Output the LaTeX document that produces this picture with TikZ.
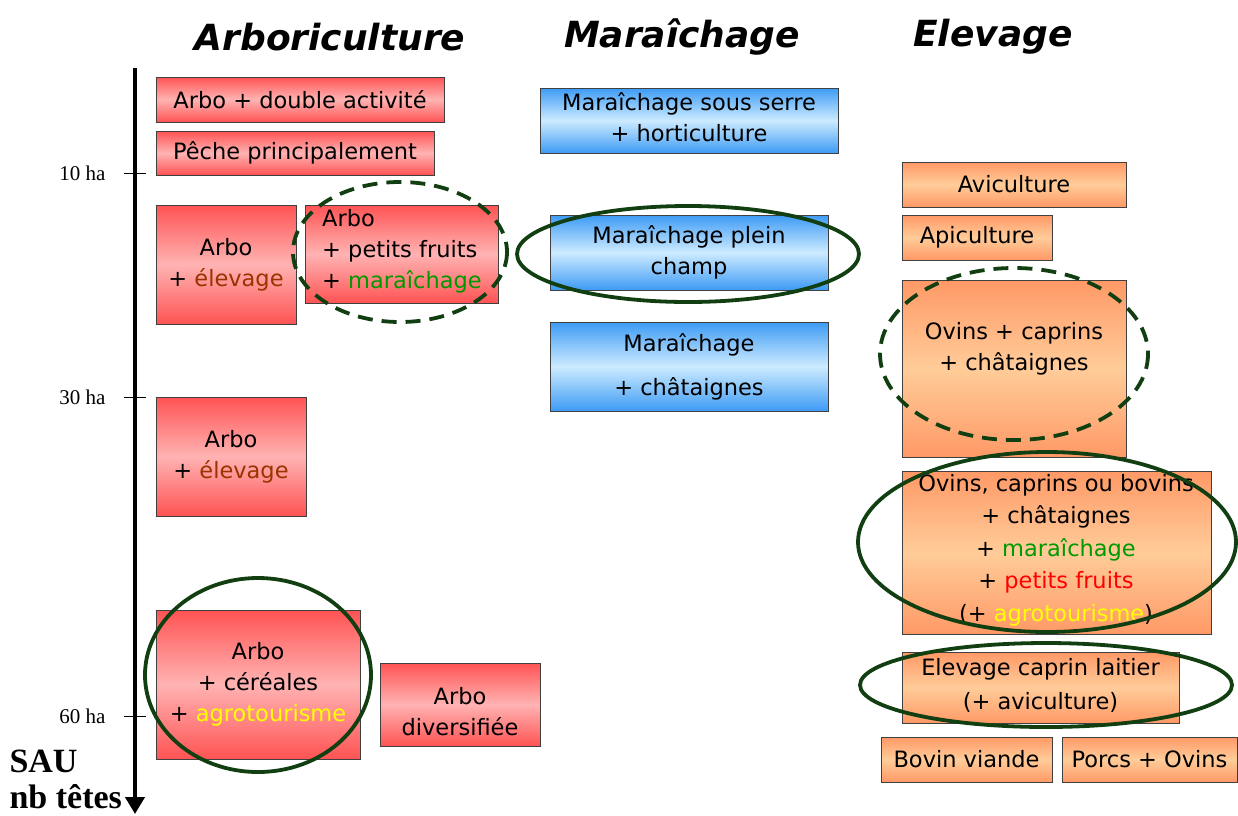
\documentclass[tikz,border=0pt]{standalone}
\usepackage{fontspec}
\setmainfont{DejaVu Sans}
\newfontfamily\serifax{Liberation Serif}
\usetikzlibrary{arrows.meta}
\definecolor{rd}{HTML}{FF5353}
\definecolor{rdl}{HTML}{FFB3B3}
\definecolor{bl}{HTML}{3D9BF5}
\definecolor{bll}{HTML}{CDEBFF}
\definecolor{og}{HTML}{FF9966}
\definecolor{ogl}{HTML}{FFCC99}
\definecolor{ringc}{HTML}{113F11}
\definecolor{brn}{HTML}{993300}
\definecolor{grn}{HTML}{009900}
\definecolor{ylw}{HTML}{FFFF00}
\definecolor{rdt}{HTML}{FF0000}
\tikzset{
  box/.style={draw=black!75, line width=0.8pt, inner sep=0pt, align=center,
    font=\fontsize{22.5}{31}\selectfont},
  redbox/.style={box, top color=rd, bottom color=rd, middle color=rdl},
  bluebox/.style={box, top color=bl, bottom color=bl, middle color=bll},
  orbox/.style={box, top color=og, bottom color=og, middle color=ogl},
  boxtext/.style={inner sep=0pt, align=center, font=\fontsize{22.5}{31}\selectfont},
  title/.style={font=\fontsize{36}{40}\selectfont\bfseries\itshape},
  axlabel/.style={font=\serifax\fontsize{21}{24}\selectfont, anchor=east},
  big/.style={font=\serifax\bfseries\fontsize{34}{38}\selectfont, anchor=west},
  ring/.style={draw=ringc, line width=3.8pt},
  dring/.style={ring, dash pattern=on 15pt off 9pt},
}
\begin{document}
\begin{tikzpicture}[x=1pt,y=-1pt]
\useasboundingbox (0,0) rectangle (1238,815);
% titles
\node[title] (t1) at (330,37) {Arboriculture};
\node[title] (t2) at (682,37) {Maraîchage};
\node[title] (t3) at (993,37) {Elevage};
% axis
\coordinate (axtop) at (135,68);
\coordinate (axbot) at (135,814);
\draw[line width=4pt, -{Triangle[width=19pt,length=17pt]}] (axtop) -- (axbot);
\foreach \yy/\lab in {173/10 ha,397/30 ha,716/60 ha}{
  \draw[line width=0.8pt] (124,\yy) -- (146,\yy);
  \node[axlabel] at (109,\yy) {\lab};
}
\node[big] (sau) at (6,761) {SAU};
\node[big] (nbt) at (6,797) {nb têtes};
% red boxes
\node[redbox, minimum width=288pt, minimum height=45pt] (r1) at (300,99.5) {Arbo + double activité};
\node[redbox, minimum width=278pt, minimum height=44pt] (r2) at (295,153) {Pêche principalement};
\node[redbox, minimum width=140pt, minimum height=119pt] (r3) at (226,264.5) {Arbo\\+ \textcolor{brn}{élevage}};
\node[redbox, minimum width=193pt, minimum height=98pt] (r4) at (401.5,254) {};
\node[boxtext, align=left] (r4t) at (402,251) {Arbo\\+ petits fruits\\+ \textcolor{grn}{maraîchage}};
\node[redbox, minimum width=150pt, minimum height=119pt] (r5) at (231,456.5) {Arbo\\+ \textcolor{brn}{élevage}};
\node[redbox, minimum width=204pt, minimum height=149pt] (r6) at (258,684.5) {Arbo\\+ céréales\\+ \textcolor{ylw}{agrotourisme}};
\node[redbox, minimum width=160pt, minimum height=83pt] (r7) at (460,704.5) {};
\node[boxtext] (r7t) at (460,712) {Arbo\\diversifiée};
% blue boxes
\node[bluebox, minimum width=298pt, minimum height=65pt] (b1) at (689,120.5) {};
\node[boxtext] (b1t) at (689,117) {Maraîchage sous serre\\+ horticulture};
\node[bluebox, minimum width=278pt, minimum height=75pt] (b2) at (689,252.5) {Maraîchage plein\\champ};
\node[bluebox, minimum width=278pt, minimum height=89pt] (b3) at (689,366.5) {Maraîchage\\[13pt]+ châtaignes};
% orange boxes
\node[orbox, minimum width=224pt, minimum height=45pt] (o1) at (1014,184.5) {Aviculture};
\node[orbox, minimum width=150pt, minimum height=45pt] (o2) at (977,237.5) {Apiculture};
\node[orbox, minimum width=224pt, minimum height=177pt] (o3) at (1014,368.5) {};
\node[boxtext] (o3t) at (1014,348.5) {Ovins + caprins\\+ châtaignes};
\node[orbox, minimum width=309pt, minimum height=163pt] (o4) at (1056.5,552.5) {};
\node[boxtext, font=\fontsize{22.5}{32.5}\selectfont] (o4t) at (1056,550) {Ovins, caprins ou bovins\\+ châtaignes\\+ \textcolor{grn}{maraîchage}\\+ \textcolor{rdt}{petits fruits}\\(+ \textcolor{ylw}{agrotourisme})};
\node[orbox, minimum width=277pt, minimum height=71pt] (o5) at (1040.5,687.5) {};
\node[boxtext, font=\fontsize{22.5}{34}\selectfont] (o5t) at (1040.5,685) {Elevage caprin laitier\\(+ aviculture)};
\node[orbox, minimum width=171pt, minimum height=45pt] (o6) at (966.5,759.5) {Bovin viande};
\node[orbox, minimum width=175pt, minimum height=45pt] (o7) at (1149.5,759.5) {Porcs + Ovins};
% rings
\draw[dring] (400,252) ellipse [x radius=107, y radius=70];
\draw[ring] (688,254) ellipse [x radius=171, y radius=48];
\draw[dring] (1014,354) ellipse [x radius=134, y radius=86];
\draw[ring] (1047,542) ellipse [x radius=189, y radius=90];
\draw[ring] (1046,685) ellipse [x radius=186, y radius=42];
\draw[ring] (258,675) ellipse [x radius=113, y radius=97];
\end{tikzpicture}
\end{document}
